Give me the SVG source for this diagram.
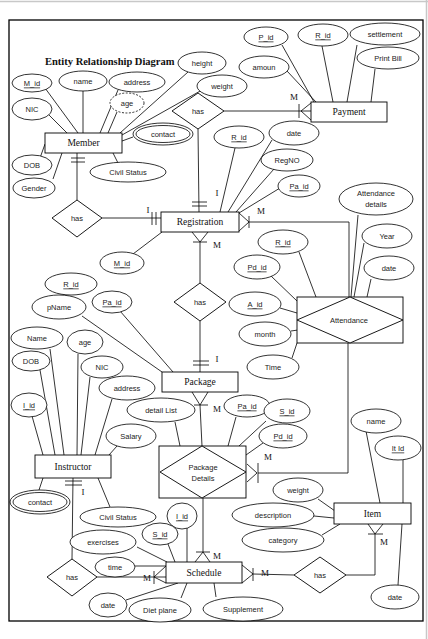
<svg xmlns="http://www.w3.org/2000/svg" width="428" height="639" viewBox="0 0 428 639">
<style>
.bg{fill:#fff}
.fr{fill:none;stroke:#000;stroke-width:1.3}
.pg{fill:none;stroke:#c8c8c8;stroke-width:1.5}
.e{fill:#fff;stroke:#000;stroke-width:0.8}
.d{fill:#fff;stroke:#000;stroke-width:0.8;stroke-dasharray:2,1.5}
.r{fill:#fff;stroke:#000;stroke-width:0.9}
.dm{fill:#fff;stroke:#000;stroke-width:0.9}
.c line,.c polyline{fill:none;stroke:#000;stroke-width:0.8}
.k{stroke:#000;stroke-width:1.3;fill:none}
.t{font-family:"Liberation Sans","Open Sans",sans-serif;font-size:7.5px;fill:#222;text-anchor:middle;dominant-baseline:central}
.s{font-family:"Liberation Serif",serif;font-size:9.5px;fill:#111;text-anchor:middle;dominant-baseline:central}
.m{font-family:"Liberation Serif",serif;font-size:9px;fill:#111;text-anchor:middle;dominant-baseline:central}
.u{text-decoration:underline}
.ti{font-family:"Liberation Serif",serif;font-size:10.5px;font-weight:bold;fill:#111}
</style>
<rect class="bg" x="0" y="0" width="428" height="639"/>
<line class="pg" x1="0" y1="1.5" x2="428" y2="1.5"/>
<line class="pg" x1="426.5" y1="0" x2="426.5" y2="639"/>
<rect class="fr" x="9" y="20" width="414" height="601"/>
<text class="ti" x="45" y="65">Entity Relationship Diagram</text>

<g id="connectors" class="c">
  <!-- Member attributes -->
  <line x1="45" y1="88" x2="78" y2="133"/>
  <line x1="83" y1="91" x2="83" y2="133"/>
  <line x1="118" y1="90" x2="100" y2="133"/>
  <line x1="117" y1="112" x2="108" y2="133"/>
  <line x1="48" y1="114" x2="67" y2="133"/>
  <line x1="188" y1="72" x2="120" y2="133"/>
  <line x1="202" y1="90" x2="122" y2="135"/>
  <line x1="133" y1="137" x2="122" y2="141"/>
  <line x1="40" y1="158" x2="45" y2="144"/>
  <line x1="53" y1="179" x2="62" y2="153"/>
  <line x1="118" y1="163" x2="113" y2="153"/>
  <!-- Payment attributes -->
  <line x1="282" y1="45" x2="314" y2="102"/>
  <line x1="287" y1="71" x2="316" y2="102"/>
  <line x1="322" y1="46" x2="333" y2="102"/>
  <line x1="357" y1="45" x2="347" y2="102"/>
  <line x1="375" y1="69" x2="371" y2="102"/>
  <!-- Registration attributes -->
  <line x1="235" y1="148" x2="220" y2="212"/>
  <line x1="272" y1="140" x2="228" y2="212"/>
  <line x1="274" y1="169" x2="236" y2="212"/>
  <line x1="280" y1="188" x2="239" y2="213"/>
  <line x1="133" y1="254" x2="162" y2="232"/>
  <!-- Attendance attributes -->
  <line x1="358" y1="215" x2="351" y2="297"/>
  <line x1="364" y1="243" x2="354" y2="297"/>
  <line x1="371" y1="279" x2="367" y2="297"/>
  <line x1="299" y1="252" x2="316" y2="297"/>
  <line x1="271" y1="276" x2="297" y2="301"/>
  <line x1="280" y1="308" x2="297" y2="313"/>
  <line x1="291" y1="331" x2="298" y2="330"/>
  <line x1="292" y1="358" x2="297" y2="343"/>
  <!-- Package attributes -->
  <line x1="82" y1="316" x2="162" y2="372"/>
  <line x1="120" y1="311" x2="173" y2="372"/>
  <!-- Package Details attributes -->
  <line x1="175" y1="422" x2="180" y2="446"/>
  <line x1="236" y1="417" x2="228" y2="446"/>
  <line x1="266" y1="421" x2="239" y2="446"/>
  <line x1="263" y1="443" x2="246" y2="455"/>
  <!-- Instructor attributes -->
  <line x1="32" y1="416" x2="43" y2="455"/>
  <line x1="40" y1="370" x2="55" y2="455"/>
  <line x1="50" y1="349" x2="64" y2="455"/>
  <line x1="78" y1="354" x2="77" y2="455"/>
  <line x1="90" y1="377" x2="81" y2="455"/>
  <line x1="112" y1="399" x2="95" y2="455"/>
  <line x1="117" y1="446" x2="109" y2="455"/>
  <line x1="43" y1="478" x2="39" y2="490"/>
  <line x1="98" y1="478" x2="110" y2="507"/>
  <!-- Item attributes -->
  <line x1="366" y1="431" x2="380" y2="503"/>
  <line x1="403" y1="459" x2="403" y2="503"/>
  <line x1="318" y1="499" x2="335" y2="511"/>
  <line x1="314" y1="516" x2="334" y2="518"/>
  <line x1="322" y1="535" x2="340" y2="524"/>
  <line x1="398" y1="585" x2="402" y2="524"/>
  <!-- Schedule attributes -->
  <line x1="187" y1="527" x2="187" y2="562"/>
  <line x1="168" y1="544" x2="175" y2="562"/>
  <line x1="137" y1="547" x2="167" y2="562"/>
  <polyline points="135,566 166,566"/>
  <line x1="126" y1="600" x2="178" y2="583"/>
  <line x1="181" y1="598" x2="187" y2="583"/>
  <line x1="216" y1="597" x2="214" y2="583"/>

  <!-- relationships -->
  <line x1="77" y1="153" x2="77" y2="200"/>
  <line x1="102" y1="218" x2="161" y2="218"/>
  <line x1="198" y1="129" x2="199" y2="212"/>
  <line x1="224" y1="111" x2="311" y2="111"/>
  <polyline points="249,222 349,222 349,297"/>
  <line x1="200" y1="242" x2="200" y2="283"/>
  <line x1="200" y1="321" x2="200" y2="372"/>
  <line x1="200" y1="405" x2="202" y2="446"/>
  <polyline points="258,473 348,473 348,343"/>
  <line x1="203" y1="552" x2="203" y2="498"/>
  <line x1="73" y1="478" x2="72" y2="559"/>
  <line x1="97" y1="577" x2="166" y2="577"/>
  <line x1="253" y1="574" x2="294" y2="575"/>
  <polyline points="346,575 375,575 375,534"/>

  <!-- cardinality marks -->
  <line class="k" x1="71" y1="158" x2="85" y2="158"/>
  <line class="k" x1="71" y1="162" x2="85" y2="162"/>
  <line class="k" x1="152" y1="212" x2="152" y2="225"/>
  <line class="k" x1="156" y1="212" x2="156" y2="225"/>
  <line class="k" x1="192" y1="202" x2="207" y2="202"/>
  <line class="k" x1="192" y1="206" x2="207" y2="206"/>
  <polyline points="311,103 301,111 311,120"/>
  <line class="k" x1="299" y1="104" x2="299" y2="118"/>
  <polyline points="239,213 249,222 239,231"/>
  <line class="k" x1="249" y1="216" x2="249" y2="228"/>
  <polyline points="192,232 200,242 208,232"/>
  <line class="k" x1="193" y1="242" x2="207" y2="242"/>
  <line class="k" x1="193" y1="361" x2="209" y2="361"/>
  <line class="k" x1="193" y1="365" x2="209" y2="365"/>
  <polyline points="192,392 200,405 208,392"/>
  <line class="k" x1="194" y1="405" x2="208" y2="405"/>
  <polyline points="247,464 257,473 247,482"/>
  <line class="k" x1="258" y1="463" x2="258" y2="483"/>
  <polyline points="195,562 203,552 210,562"/>
  <line class="k" x1="196" y1="552" x2="210" y2="552"/>
  <line class="k" x1="65" y1="481" x2="82" y2="481"/>
  <line class="k" x1="65" y1="485" x2="82" y2="485"/>
  <polyline points="166,566 154,577 166,583"/>
  <line class="k" x1="154" y1="571" x2="154" y2="584"/>
  <polyline points="242,565 253,574 242,583"/>
  <line class="k" x1="253" y1="568" x2="253" y2="581"/>
  <polyline points="368,524 375,534 383,524"/>
  <line class="k" x1="368" y1="534" x2="383" y2="534"/>
</g>

<g id="card-labels">
  <text class="m" x="148" y="210">I</text>
  <text class="m" x="217" y="193">I</text>
  <text class="m" x="294" y="97">M</text>
  <text class="m" x="261" y="211">M</text>
  <text class="m" x="217" y="245">M</text>
  <text class="m" x="217" y="359">I</text>
  <text class="m" x="217" y="409">M</text>
  <text class="m" x="268" y="457">M</text>
  <text class="m" x="217" y="556">M</text>
  <text class="m" x="83" y="492">I</text>
  <text class="m" x="147" y="578">M</text>
  <text class="m" x="265" y="573">M</text>
  <text class="m" x="384" y="542">M</text>
</g>

<!-- Entities -->
<g id="member"><rect class="r" x="45" y="133" width="77" height="20"/><text class="s" x="83.5" y="143">Member</text></g>
<g id="registration"><rect class="r" x="161" y="212" width="78" height="20"/><text class="s" x="200" y="222">Registration</text></g>
<g id="payment"><rect class="r" x="311" y="102" width="76" height="20"/><text class="s" x="349" y="112">Payment</text></g>
<g id="package"><rect class="r" x="162" y="372" width="76" height="20"/><text class="s" x="200" y="382">Package</text></g>
<g id="instructor"><rect class="r" x="35" y="455" width="76" height="23"/><text class="s" x="73" y="466.5">Instructor</text></g>
<g id="schedule"><rect class="r" x="166" y="562" width="76" height="21"/><text class="s" x="204" y="572.5">Schedule</text></g>
<g id="item"><rect class="r" x="334" y="503" width="77" height="21"/><text class="s" x="372.5" y="513.5">Item</text></g>

<!-- Associative entities -->
<g id="attendance"><rect class="r" x="297" y="297" width="106" height="46"/><polygon class="dm" points="350,297 403,320 350,343 297,320"/><text class="t" x="349" y="320">Attendance</text></g>
<g id="package-details"><rect class="r" x="159" y="446" width="87" height="52"/><polygon class="dm" points="202,446 246,472 202,498 160,472"/><text class="t" x="203" y="467">Package</text><text class="t" x="203" y="478">Details</text></g>

<!-- Relationships -->
<g id="has-payment"><polygon class="dm" points="198,93 224,111 198,129 172,111"/><text class="t" x="198" y="111">has</text></g>
<g id="has-member-reg"><polygon class="dm" points="77,200 102,218 77,237 52,218"/><text class="t" x="77" y="218">has</text></g>
<g id="has-reg-package"><polygon class="dm" points="200,283 226,302 200,321 174,302"/><text class="t" x="200" y="302">has</text></g>
<g id="has-instructor-schedule"><polygon class="dm" points="72,559 97,577 72,596 47,577"/><text class="t" x="72" y="577">has</text></g>
<g id="has-schedule-item"><polygon class="dm" points="320,557 346,575 320,593 294,575"/><text class="t" x="320" y="575">has</text></g>

<!-- Member attributes -->
<g id="member-mid"><ellipse class="e" cx="32" cy="83" rx="20" ry="9"/><text class="t u" x="32" y="83">M_id</text></g>
<g id="member-name"><ellipse class="e" cx="83" cy="81" rx="24" ry="10"/><text class="t" x="83" y="81">name</text></g>
<g id="member-address"><ellipse class="e" cx="137" cy="82" rx="28" ry="10"/><text class="t" x="137" y="82">address</text></g>
<g id="member-age"><ellipse class="d" cx="127" cy="103" rx="17" ry="10"/><text class="t" x="127" y="103">age</text></g>
<g id="member-nic"><ellipse class="e" cx="32" cy="109" rx="20" ry="11"/><text class="t" x="32" y="109">NIC</text></g>
<g id="member-height"><ellipse class="e" cx="202" cy="63" rx="24" ry="11"/><text class="t" x="202" y="63">height</text></g>
<g id="member-weight"><ellipse class="e" cx="222" cy="86" rx="25" ry="11"/><text class="t" x="222" y="86">weight</text></g>
<g id="member-contact"><ellipse class="e" cx="163" cy="134" rx="30" ry="11"/><ellipse class="e" cx="163" cy="134" rx="27" ry="8.5"/><text class="t" x="163" y="134">contact</text></g>
<g id="member-dob"><ellipse class="e" cx="32" cy="165" rx="20" ry="10"/><text class="t" x="32" y="165">DOB</text></g>
<g id="member-gender"><ellipse class="e" cx="34" cy="188" rx="21" ry="10"/><text class="t" x="34" y="188">Gender</text></g>
<g id="member-civil"><ellipse class="e" cx="128" cy="172" rx="38" ry="10"/><text class="t" x="128" y="172">Civil Status</text></g>

<!-- Payment attributes -->
<g id="payment-pid"><ellipse class="e" cx="266" cy="37" rx="22" ry="10"/><text class="t u" x="266" y="37">P_id</text></g>
<g id="payment-rid"><ellipse class="e" cx="323" cy="35" rx="25" ry="11"/><text class="t u" x="323" y="35">R_id</text></g>
<g id="payment-settlement"><ellipse class="e" cx="385" cy="34" rx="35" ry="11"/><text class="t" x="385" y="34">settlement</text></g>
<g id="payment-printbill"><ellipse class="e" cx="388" cy="58" rx="31" ry="11"/><text class="t" x="388" y="58">Print Bill</text></g>
<g id="payment-amount"><ellipse class="e" cx="264" cy="67" rx="25" ry="11"/><text class="t" x="264" y="67">amoun</text></g>

<!-- Registration attributes -->
<g id="reg-rid"><ellipse class="e" cx="239" cy="137" rx="25" ry="11"/><text class="t u" x="239" y="137">R_id</text></g>
<g id="reg-date"><ellipse class="e" cx="294" cy="133" rx="25" ry="12"/><text class="t" x="294" y="133">date</text></g>
<g id="reg-regno"><ellipse class="e" cx="287" cy="160" rx="26" ry="11"/><text class="t" x="287" y="160">RegNO</text></g>
<g id="reg-paid"><ellipse class="e" cx="299" cy="186" rx="21" ry="11"/><text class="t u" x="299" y="186">Pa_id</text></g>
<g id="reg-mid"><ellipse class="e" cx="122" cy="263" rx="22" ry="11"/><text class="t u" x="122" y="263">M_id</text></g>

<!-- Attendance attributes -->
<g id="att-details"><ellipse class="e" cx="376" cy="199" rx="37" ry="16"/><text class="t" x="376" y="193">Attendance</text><text class="t" x="376" y="204">details</text></g>
<g id="att-year"><ellipse class="e" cx="387" cy="236" rx="25" ry="12"/><text class="t" x="387" y="236">Year</text></g>
<g id="att-date"><ellipse class="e" cx="389" cy="268" rx="25" ry="12"/><text class="t" x="389" y="268">date</text></g>
<g id="att-rid"><ellipse class="e" cx="283" cy="242" rx="25" ry="12"/><text class="t u" x="283" y="242">R_id</text></g>
<g id="att-pdid"><ellipse class="e" cx="257" cy="267" rx="23" ry="12"/><text class="t u" x="257" y="267">Pd_id</text></g>
<g id="att-aid"><ellipse class="e" cx="255" cy="304" rx="26" ry="12"/><text class="t u" x="255" y="304">A_id</text></g>
<g id="att-month"><ellipse class="e" cx="265" cy="334" rx="26" ry="12"/><text class="t" x="265" y="334">month</text></g>
<g id="att-time"><ellipse class="e" cx="273" cy="367" rx="26" ry="12"/><text class="t" x="273" y="367">Time</text></g>

<!-- Package attributes -->
<g id="pkg-rid"><ellipse class="e" cx="71" cy="284" rx="26" ry="11"/><text class="t u" x="71" y="284">R_id</text></g>
<g id="pkg-pname"><ellipse class="e" cx="59" cy="307" rx="27" ry="12"/><text class="t" x="59" y="307">pName</text></g>
<g id="pkg-paid"><ellipse class="e" cx="112" cy="302" rx="20" ry="11"/><text class="t u" x="112" y="302">Pa_id</text></g>

<!-- Package Details attributes -->
<g id="pd-detaillist"><ellipse class="e" cx="161" cy="410" rx="34" ry="12"/><text class="t" x="161" y="410">detail List</text></g>
<g id="pd-paid"><ellipse class="e" cx="247" cy="406" rx="23" ry="11"/><text class="t u" x="247" y="406">Pa_id</text></g>
<g id="pd-sid"><ellipse class="e" cx="287" cy="411" rx="23" ry="12"/><text class="t u" x="287" y="411">S_id</text></g>
<g id="pd-pdid"><ellipse class="e" cx="283" cy="436" rx="24" ry="12"/><text class="t u" x="283" y="436">Pd_id</text></g>

<!-- Instructor attributes -->
<g id="ins-name"><ellipse class="e" cx="37" cy="338" rx="26" ry="11"/><text class="t" x="37" y="338">Name</text></g>
<g id="ins-age"><ellipse class="e" cx="85" cy="342" rx="18" ry="12"/><text class="t" x="85" y="342">age</text></g>
<g id="ins-dob"><ellipse class="e" cx="31" cy="361" rx="19" ry="10"/><text class="t" x="31" y="361">DOB</text></g>
<g id="ins-nic"><ellipse class="e" cx="102" cy="367" rx="21" ry="11"/><text class="t" x="102" y="367">NIC</text></g>
<g id="ins-address"><ellipse class="e" cx="127" cy="388" rx="28" ry="12"/><text class="t" x="127" y="388">address</text></g>
<g id="ins-iid"><ellipse class="e" cx="29" cy="405" rx="18" ry="12"/><text class="t u" x="29" y="405">I_id</text></g>
<g id="ins-salary"><ellipse class="e" cx="131" cy="436" rx="25" ry="12"/><text class="t" x="131" y="436">Salary</text></g>
<g id="ins-contact"><ellipse class="e" cx="40" cy="502" rx="30" ry="12"/><ellipse class="e" cx="40" cy="502" rx="27" ry="9.5"/><text class="t" x="40" y="502">contact</text></g>
<g id="ins-civil"><ellipse class="e" cx="118" cy="517" rx="38" ry="10"/><text class="t" x="118" y="517">Civil Status</text></g>

<!-- Item attributes -->
<g id="item-name"><ellipse class="e" cx="376" cy="421" rx="25" ry="12"/><text class="t" x="376" y="421">name</text></g>
<g id="item-itid"><ellipse class="e" cx="398" cy="448" rx="23" ry="12"/><text class="t u" x="398" y="448">It Id</text></g>
<g id="item-weight"><ellipse class="e" cx="298" cy="490" rx="25" ry="12"/><text class="t" x="298" y="490">weight</text></g>
<g id="item-description"><ellipse class="e" cx="273" cy="515" rx="41" ry="12"/><text class="t" x="273" y="515">description</text></g>
<g id="item-category"><ellipse class="e" cx="283" cy="540" rx="41" ry="12"/><text class="t" x="283" y="540">category</text></g>
<g id="item-date"><ellipse class="e" cx="395" cy="597" rx="24" ry="12"/><text class="t" x="395" y="597">date</text></g>

<!-- Schedule attributes -->
<g id="sch-iid"><ellipse class="e" cx="182" cy="516" rx="15" ry="13"/><text class="t u" x="182" y="516">I_id</text></g>
<g id="sch-sid"><ellipse class="e" cx="160" cy="534" rx="18" ry="11"/><text class="t u" x="160" y="534">S_id</text></g>
<g id="sch-exercises"><ellipse class="e" cx="103" cy="542" rx="33" ry="12"/><text class="t" x="103" y="542">exercises</text></g>
<g id="sch-time"><ellipse class="e" cx="115" cy="567" rx="20" ry="10"/><text class="t" x="115" y="567">time</text></g>
<g id="sch-date"><ellipse class="e" cx="108" cy="605" rx="19" ry="12"/><text class="t" x="108" y="605">date</text></g>
<g id="sch-diet"><ellipse class="e" cx="160" cy="610" rx="31" ry="12"/><text class="t" x="160" y="610">Diet plane</text></g>
<g id="sch-supplement"><ellipse class="e" cx="243" cy="609" rx="40" ry="12"/><text class="t" x="243" y="609">Supplement</text></g>
</svg>
